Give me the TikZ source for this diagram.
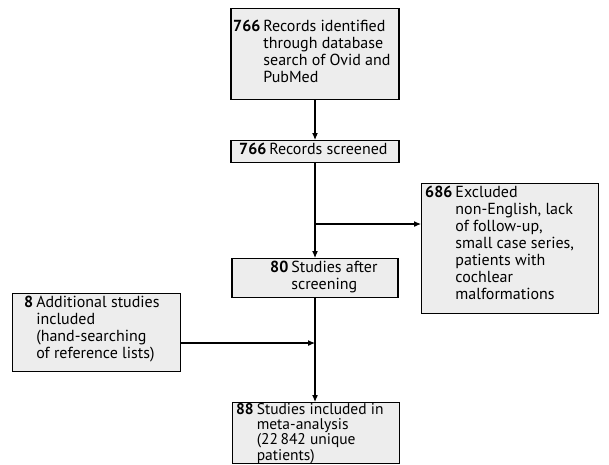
\documentclass[tikz,border=0pt]{standalone}
\usepackage{fontspec}
\setmainfont{PT Sans}
\usetikzlibrary{arrows.meta}
\newcommand{\entrytext}[2]{\textbf{#1}\hspace{3pt}\begin{tabular}[t]{@{}l@{}}#2\end{tabular}}
\begin{document}
\begin{tikzpicture}[x=1pt,y=-1pt,
  box/.style={draw=black, line width=1.1pt, fill=black!7, inner sep=0pt, anchor=north},
  txt/.style={anchor=north west, inner sep=0pt, font=\fontsize{16}{17}\selectfont},
  conn/.style={line width=1.1pt, -{Latex[length=7pt,width=6pt]}}]
\useasboundingbox (0,0) rectangle (609,464);
% boxes (common centre x = 315)
\node[box, minimum width=168pt, minimum height=91pt] (b1) at (315,8) {};
\node[box, minimum width=168pt, minimum height=22pt] (b2) at (315,140) {};
\node[box, minimum width=177pt, minimum height=130pt, anchor=north west] (bx) at (421,183) {};
\node[box, minimum width=166pt, minimum height=39pt] (b3) at (315,258) {};
\node[box, minimum width=168pt, minimum height=78pt, anchor=north west] (ba) at (12,293) {};
\node[box, minimum width=167pt, minimum height=61pt] (b4) at (316,402) {};
% texts
\node[txt] (t1) at (233,19) {\entrytext{766}{Records identified\\through database\\search of Ovid and\\PubMed}};
\node[txt] (t2) at (239,142) {\entrytext{766}{Records screened}};
\node[txt] (tx) at (425,185) {\entrytext{686}{Excluded\\non-English, lack\\of follow-up,\\small case series,\\patients with\\cochlear\\malformations}};
\node[txt] (t3) at (270,260) {\entrytext{80}{Studies after\\screening}};
\node[txt] (ta) at (24,295) {\entrytext{8}{Additional studies\\included\\(hand-searching\\of reference lists)}};
\node[txt, font=\fontsize{15.5}{14.3}\selectfont] (t4) at (236,403) {\entrytext{88}{Studies included in\\meta-analysis\\(22\,842 unique\\patients)}};
% connectors
\coordinate (j1) at (b2.south |- 0,224);
\coordinate (j2) at (b3.south |- 0,343);
\draw[conn] (b1.south) -- (b2.north);
\draw[conn] (b2.south) -- (b3.north);
\draw[conn] (j1) -- (j1 -| bx.west);
\draw[conn] (b3.south) -- (b3.south |- b4.north);
\draw[conn] (ba.east |- j2) -- (j2);
\end{tikzpicture}
\end{document}
